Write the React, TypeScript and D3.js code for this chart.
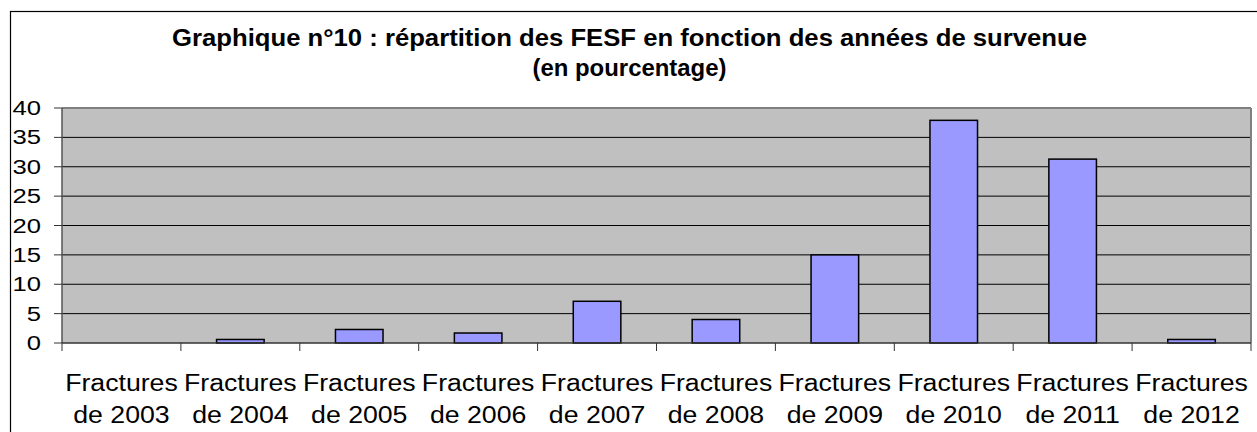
import React from "react";
import * as d3 from "d3";

const categories = [
  "Fractures de 2003",
  "Fractures de 2004",
  "Fractures de 2005",
  "Fractures de 2006",
  "Fractures de 2007",
  "Fractures de 2008",
  "Fractures de 2009",
  "Fractures de 2010",
  "Fractures de 2011",
  "Fractures de 2012",
];
const values = [0, 0.6, 2.3, 1.7, 7.1, 4.0, 15.0, 37.9, 31.3, 0.6];
const yTicks = [0, 5, 10, 15, 20, 25, 30, 35, 40];
const titleLines = [
  "Graphique n°10 : répartition des FESF en fonction des années de survenue",
  "(en pourcentage)",
];
const titleWidths = [915, 194];

const W = 1257;
const H = 432;
const plot = { left: 62, right: 1251, top: 108, bottom: 343 };
const FONT = "Arial, 'Liberation Sans', sans-serif";

export default function App() {
  const x = d3
    .scaleBand<string>()
    .domain(categories)
    .range([plot.left, plot.right])
    .paddingInner(0.6)
    .paddingOuter(0.3);
  const y = d3.scaleLinear().domain([0, 40]).range([plot.bottom, plot.top]);
  const step = x.step();
  const boundaries = d3.range(categories.length + 1).map((i) => plot.left + i * step);

  return (
    <svg
      width={W}
      height={H}
      style={{ position: "absolute", left: 0, top: 0, background: "#fff" }}
      fontFamily={FONT}
    >
      <rect x={0} y={0} width={W} height={H} fill="#fff" />
      {/* outer frame */}
      <rect x={10.5} y={11.5} width={W + 20} height={H + 20} fill="none" stroke="#000" strokeWidth={1.2} />

      {/* title */}
      {titleLines.map((t, i) => (
        <text
          key={i}
          x={629.5}
          y={46 + i * 30}
          textAnchor="middle"
          fontWeight="bold"
          fontSize={23}
          fill="#000"
          textLength={titleWidths[i]}
          lengthAdjust="spacingAndGlyphs"
        >
          {t}
        </text>
      ))}

      {/* plot area */}
      <rect
        x={plot.left}
        y={plot.top}
        width={plot.right - plot.left}
        height={plot.bottom - plot.top}
        fill="#C0C0C0"
      />
      {yTicks
        .filter((t) => t > 0 && t < 40)
        .map((t) => (
          <line
            key={t}
            x1={plot.left}
            x2={plot.right}
            y1={y(t)}
            y2={y(t)}
            stroke="#000"
            strokeWidth={1}
          />
        ))}
      {/* plot border */}
      <line x1={plot.left} x2={plot.right} y1={plot.top} y2={plot.top} stroke="#808080" strokeWidth={2} />
      <line x1={plot.right} x2={plot.right} y1={plot.top} y2={plot.bottom} stroke="#808080" strokeWidth={2} />

      {/* bars */}
      {categories.map((c, i) => (
        <rect
          key={c}
          x={x(c)}
          y={y(values[i])}
          width={x.bandwidth()}
          height={Math.max(0, y(0) - y(values[i]))}
          fill="#9999FF"
          stroke="#000"
          strokeWidth={1.5}
        />
      ))}

      {/* axes */}
      <line x1={plot.left} x2={plot.left} y1={plot.top} y2={plot.bottom} stroke="#555" strokeWidth={1.5} />
      <line x1={plot.left} x2={plot.right} y1={plot.bottom} y2={plot.bottom} stroke="#333" strokeWidth={1.5} />
      {yTicks.map((t) => (
        <g key={t}>
          <line x1={plot.left - 8} x2={plot.left} y1={y(t)} y2={y(t)} stroke="#333" strokeWidth={1} />
          <text
            transform={`translate(41,${y(t) + 7}) scale(1.22,1)`}
            textAnchor="end"
            fontSize={21}
            fill="#000"
          >
            {t}
          </text>
        </g>
      ))}
      {boundaries.map((bx, i) => (
        <line key={i} x1={bx} x2={bx} y1={plot.bottom} y2={plot.bottom + 8} stroke="#333" strokeWidth={1} />
      ))}
      {categories.map((c) => {
        const cx = (x(c) as number) + x.bandwidth() / 2;
        const parts = [c.slice(0, 9), c.slice(10)];
        return parts.map((p, j) => (
          <text
            key={c + j}
            transform={`translate(${cx},${391 + j * 32}) scale(1.16,1)`}
            textAnchor="middle"
            fontSize={23}
            fill="#000"
          >
            {p}
          </text>
        ));
      })}
    </svg>
  );
}
